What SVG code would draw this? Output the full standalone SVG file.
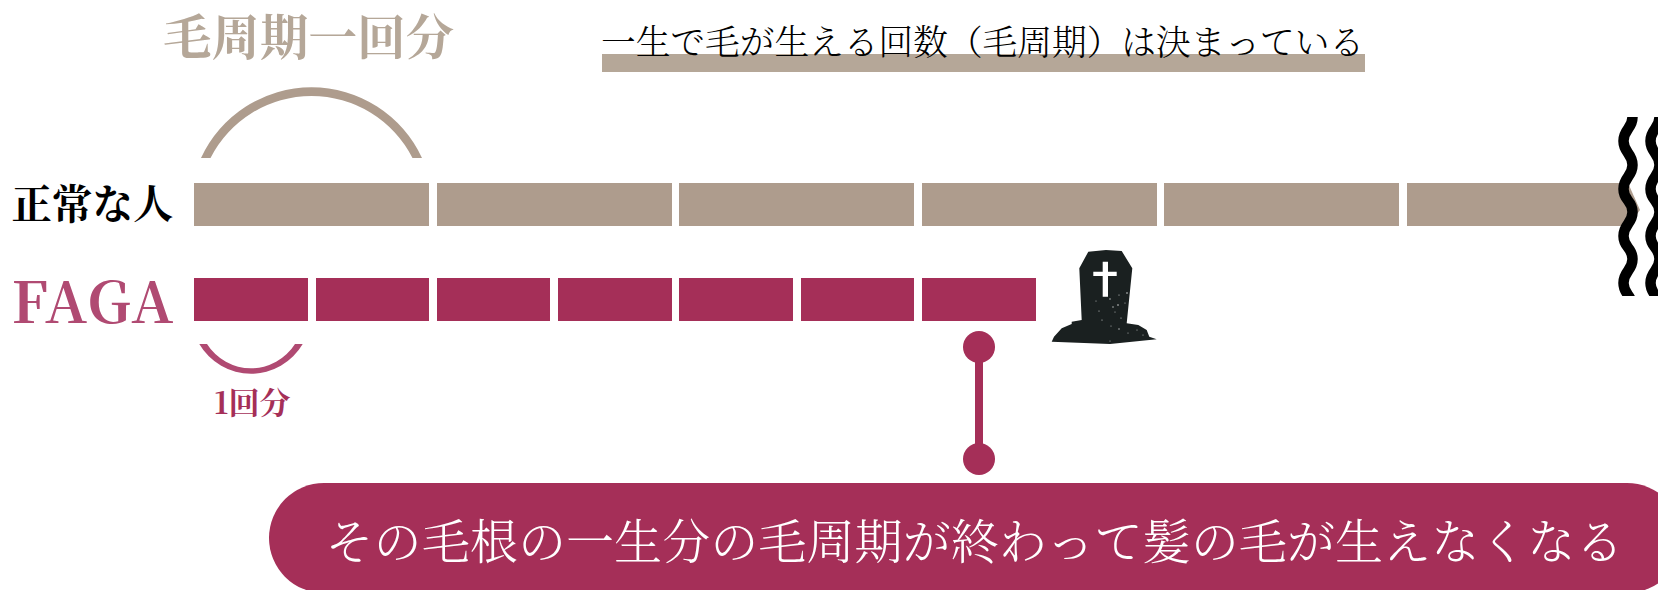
<svg xmlns="http://www.w3.org/2000/svg" width="1658" height="590" viewBox="0 0 1658 590">
<style>
text{font-family:"Noto Serif CJK JP","Noto Sans CJK JP","Liberation Serif",serif}
.tan{fill:#AE9C8D}
.mag{fill:#A52F58}
.wave{fill:none;stroke:#000;stroke-width:10.500}
</style>
<defs>
<clipPath id="waveclip"><rect x="1600" y="117" width="58" height="179"/></clipPath>
<path id="w" d="M1632.500 93C1632.500 105 1623.500 105 1623.500 117C1623.500 105 1632.500 105 1632.500 117C1632.500 129 1623.500 129 1623.500 141S1632.500 153 1632.500 165S1623.500 177 1623.500 189S1632.500 200 1632.500 212S1623.500 224 1623.500 236S1632.500 247 1632.500 259S1623.500 271 1623.500 283S1632.500 295 1632.500 307"/>
</defs>
<rect width="1658" height="590" fill="#fff"/>
<g id="title">
<text x="163" y="55" font-size="48.500" font-weight="700" fill="#B5A798">毛周期一回分</text>
<path fill="#AE9C8D" d="M201 158A121.700 121.700 0 0 1 422 158H412.500A113.300 113.300 0 0 0 210.500 158Z"/>
</g>
<g id="lifetime">
<rect x="602" y="54" width="763" height="18" fill="#B5A798"/>
<text x="601" y="55" font-size="34.700" font-weight="300" fill="#000">一生で毛が生える回数（毛周期）は決まっている</text>
</g>
<g id="normal">
<text x="11.500" y="219" font-size="40.500" font-weight="700" fill="#000">正常な人</text>
<rect class="tan" x="194" y="183" width="235" height="43"/>
<rect class="tan" x="437" y="183" width="235" height="43"/>
<rect class="tan" x="679" y="183" width="235" height="43"/>
<rect class="tan" x="922" y="183" width="235" height="43"/>
<rect class="tan" x="1164" y="183" width="235" height="43"/>
<path class="tan" d="M1407 183H1628L1640 210L1628 226H1407Z"/>
</g>
<g id="waves" clip-path="url(#waveclip)">
<use href="#w" class="wave"/>
<use href="#w" class="wave" x="27"/>
</g>
<g id="faga">
<text x="11.500" y="323" font-size="57" font-weight="700" fill="#B04A72" textLength="162">FAGA</text>
<rect class="mag" x="194" y="278" width="114" height="43"/>
<rect class="mag" x="316" y="278" width="113" height="43"/>
<rect class="mag" x="437" y="278" width="113" height="43"/>
<rect class="mag" x="558" y="278" width="114" height="43"/>
<rect class="mag" x="679" y="278" width="114" height="43"/>
<rect class="mag" x="801" y="278" width="113" height="43"/>
<rect class="mag" x="922" y="278" width="114" height="43"/>
</g>
<g id="one-cycle">
<path fill="#B04A72" d="M199.300 344H207A52 52 0 0 0 295 344H302.700A59.800 59.800 0 0 1 199.300 344Z"/>
<text x="214" y="414" font-size="31" font-weight="700" fill="#A52F58">1回分</text>
</g>
<g id="grave">
<path fill="#1A2020" d="M1088.300 251.700L1106 250L1121.700 251L1132.300 268.300L1126.700 323.300L1138.300 325L1146.700 330L1149.300 336.700L1156.700 339.300L1110 344L1051.700 341.700L1054 336.700L1061.700 328.300L1071.700 324V321.700L1081.700 320L1079.300 268.300Z"/>
<path fill="#fff" d="M1102.700 261.700H1108V271.700H1116.700V276H1108V296.700H1102.700V276H1093.300V271.700H1102.700Z"/>
<g fill="#fff" opacity=".8">
<circle cx="1127" cy="293" r=".8"/><circle cx="1119" cy="295" r=".6"/><circle cx="1110" cy="299" r=".7"/><circle cx="1096" cy="301" r=".5"/>
<circle cx="1118" cy="305" r=".8"/><circle cx="1113" cy="307" r=".7"/><circle cx="1125" cy="303" r=".5"/><circle cx="1099" cy="311" r=".6"/>
<circle cx="1115" cy="312" r=".5"/><circle cx="1121" cy="318" r=".6"/><circle cx="1102" cy="320" r=".6"/><circle cx="1111" cy="326" r=".5"/>
<circle cx="1119" cy="329" r=".7"/><circle cx="1128" cy="333" r=".5"/><circle cx="1137" cy="330" r=".5"/><circle cx="1143" cy="335" r=".5"/><circle cx="1110" cy="341" r=".5"/>
</g>
</g>
<g id="connectors">
<line x1="979" y1="347" x2="979" y2="459" stroke="#A52F58" stroke-width="8"/>
<circle class="mag" cx="979" cy="347" r="16"/>
<circle class="mag" cx="979" cy="459" r="16"/>
</g>
<g id="message">
<rect class="mag" x="269" y="483" width="1413" height="110" rx="55"/>
<text x="325.500" y="559" font-size="48.100" font-weight="300" fill="#fff">その毛根の一生分の毛周期が終わって髪の毛が生えなくなる</text>
</g>
</svg>
